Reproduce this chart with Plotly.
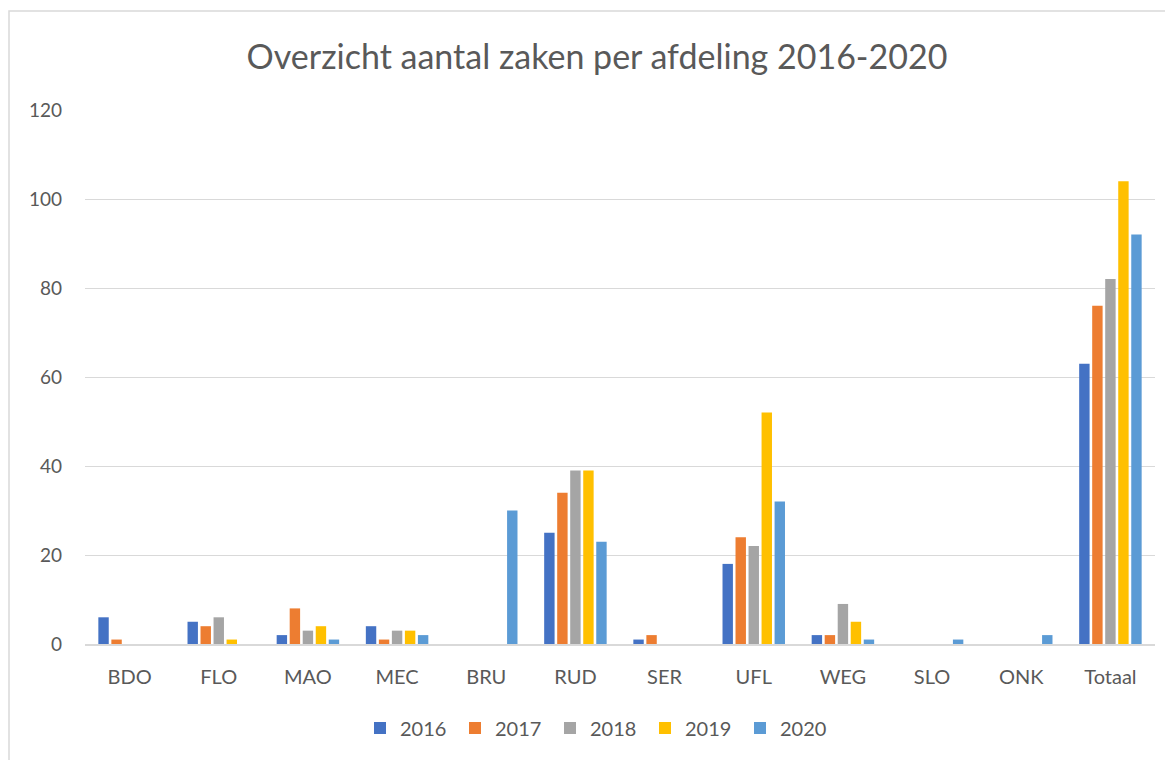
import plotly.graph_objects as go

categories = ["BDO", "FLO", "MAO", "MEC", "BRU", "RUD", "SER", "UFL", "WEG", "SLO", "ONK", "Totaal"]
years = ["2016", "2017", "2018", "2019", "2020"]
v2016 = [6, 5, 2, 4, 0, 25, 1, 18, 2, 0, 0, 63]
v2017 = [1, 4, 8, 1, 0, 34, 2, 24, 2, 0, 0, 76]
v2018 = [0, 6, 3, 3, 0, 39, 0, 22, 9, 0, 0, 82]
v2019 = [0, 1, 4, 3, 0, 39, 0, 52, 5, 0, 0, 104]
v2020 = [0, 0, 1, 2, 30, 23, 0, 32, 1, 1, 2, 92]
series = [v2016, v2017, v2018, v2019, v2020]
colors = ["#4472C4", "#ED7D31", "#A5A5A5", "#FFC000", "#5B9BD5"]

FONT = "Lato, Open Sans, sans-serif"
fig = go.Figure()
for name, vals, col in zip(years, series, colors):
    fig.add_trace(go.Bar(name=name, x=categories, y=vals, marker=dict(color=col, line=dict(width=0))))

OFF = 8  # page body margin
W, H = 1173 - OFF, 760 - OFF
L, T = 85 - OFF, 110 - OFF
R = W - (1155 - OFF)
B = H - (644 - OFF)
pw, ph = W - L - R, H - T - B

def px(x):
    return (x - OFF - L) / pw

def py(y):
    return (H - B - (y - OFF)) / ph

fig.update_layout(
    width=W, height=H,
    margin=dict(l=L, r=R, t=T, b=B),
    paper_bgcolor="white", plot_bgcolor="white",
    barmode="group", bargap=0.27, bargroupgap=0.2,
    title=dict(text="Overzicht aantal zaken per afdeling 2016-2020", x=(597 - OFF) / W, xanchor="center",
               y=1 - (57 - OFF) / H, yanchor="middle", font=dict(family=FONT, size=34, color="#595959")),
    font=dict(family=FONT, color="#595959"),
    xaxis=dict(showgrid=False, showline=True, linecolor="#D9D9D9", linewidth=1.5, ticks="",
               tickfont=dict(size=20, color="#595959"), ticklabelstandoff=14),
    yaxis=dict(range=[0, 120], dtick=20, showgrid=True, gridcolor="#D9D9D9", gridwidth=1.2,
               zeroline=False, ticks="", tickfont=dict(size=19, color="#595959"), ticklabelstandoff=22),
    legend=dict(orientation="h", x=px(360), xanchor="left", y=py(728), yanchor="middle",
                font=dict(size=20, color="#595959"), itemwidth=30, traceorder="normal",
                entrywidth=50, entrywidthmode="pixels"),
    showlegend=True,
)
fig.add_shape(type="rect", xref="paper", yref="paper",
              x0=px(9), x1=px(1173 + 20), y0=py(760 + 20), y1=py(11),
              line=dict(color="#D9D9D9", width=1.5), fillcolor="rgba(0,0,0,0)", layer="below")

fig.write_html("out.html")
